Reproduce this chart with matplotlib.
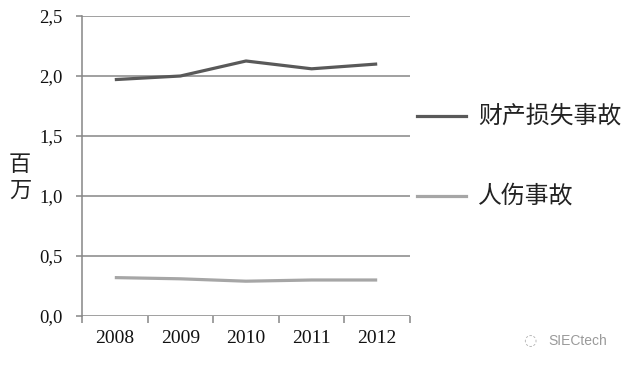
import matplotlib
matplotlib.use("Agg")
import matplotlib.pyplot as plt
import numpy as np

years = ["2008", "2009", "2010", "2011", "2012"]
property_loss = [1.97, 2.00, 2.125, 2.06, 2.10]
injury = [0.32, 0.31, 0.29, 0.30, 0.30]
yticks = [0.0, 0.5, 1.0, 1.5, 2.0, 2.5]
ytick_labels = ["0,0", "0,5", "1,0", "1,5", "2,0", "2,5"]
series_names = ["财产损失事故", "人伤事故"]

cjk = ["Noto Sans CJK SC", "DejaVu Sans"]
serif = ["Liberation Serif", "DejaVu Serif"]
grid_c = "#868686"

fig = plt.figure(figsize=(6.28, 3.65), dpi=100)
ax = fig.add_axes([82/628, 1-316/365, (410-82)/628, (316-16)/365])

x = np.arange(len(years)) + 0.5
l1, = ax.plot(x, property_loss, color="#595959", lw=2.3, solid_capstyle="butt")
l2, = ax.plot(x, injury, color="#a6a6a6", lw=2.3, solid_capstyle="butt")

ax.set_xlim(0, len(years))
ax.set_ylim(0, 2.5)
ax.set_yticks(yticks)
ax.set_yticklabels(ytick_labels, fontfamily=serif, fontsize=13.5, color="#111111")
for v in yticks:
    ax.axhline(v, color=grid_c, lw=1.1, zorder=0)

ax.set_xticks(np.arange(len(years) + 1))
ax.set_xticklabels([""] * (len(years) + 1))
ax.set_xticks(x, minor=True)
ax.set_xticklabels(years, minor=True, fontfamily=serif, fontsize=14, color="#111111")
ax.tick_params(axis="x", which="major", length=5, width=1.1, color=grid_c, direction="out")
ax.tick_params(axis="x", which="minor", length=0, pad=10)
ax.tick_params(axis="y", length=4, width=1.1, color=grid_c, pad=10)

for s in ["top", "right", "bottom"]:
    ax.spines[s].set_visible(False)
ax.spines["left"].set_color(grid_c)
ax.spines["left"].set_linewidth(1.1)

fig.text(20/628, 1-177/365, "百\n万", fontfamily=cjk, fontsize=16, fontweight="light",
         ha="center", va="center", linespacing=1.15, color="#222222")

# legend
for yy, line, name in [(116, l1, series_names[0]), (196, l2, series_names[1])]:
    fig.add_artist(plt.Line2D([417/628, 466/628], [1-yy/365, 1-yy/365],
                              color=line.get_color(), lw=2.3, transform=fig.transFigure))
    fig.text(478/628, 1-yy/365, name, fontfamily=cjk, fontsize=17.2, fontweight="light",
             ha="left", va="center", color="#222222")

fig.text(548/628, 1-341/365, "SIECtech", fontfamily=["Liberation Sans"], fontsize=10,
         color="#9a9a9a", ha="left", va="center")
fig.text(530/628, 1-341/365, "◌", fontfamily=["DejaVu Sans"], fontsize=11,
         color="#b0b0b0", ha="center", va="center")

fig.savefig("out.png", dpi=100)
